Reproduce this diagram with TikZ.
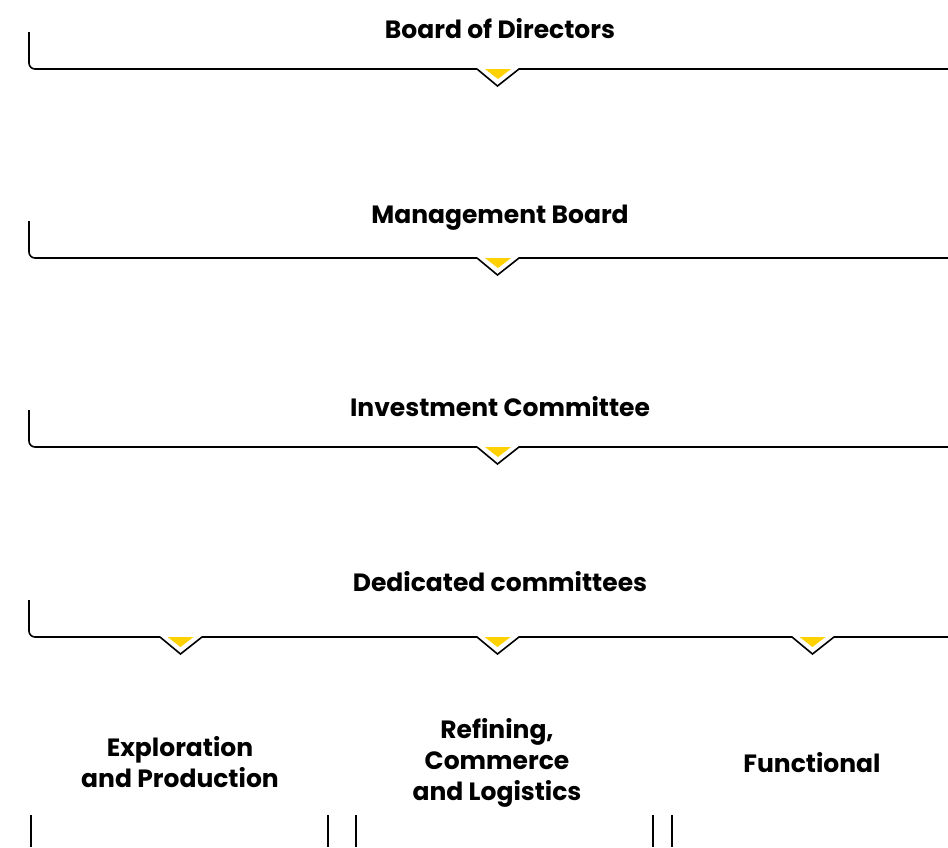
\documentclass[tikz,border=0pt]{standalone}
\usepackage{fontspec}
\setmainfont{Poppins}
\usepackage{tikz}
\usetikzlibrary{positioning}

\begin{document}
\begin{tikzpicture}[x=1pt, y=-1pt,
		title/.style={font=\bfseries\fontsize{25}{31}\selectfont, align=center, inner sep=0pt},
		band/.style={line width=1.6pt, black},
		marker/.style={fill={rgb,255:red,255;green,209;blue,0}}]
	\useasboundingbox (0,0) rectangle (948,847);
	% headings
	\node[title] (board) at (500,29) {Board of Directors};
	\node[title] (mgmt) at (500,218) {Management Board};
	\node[title] (invest) at (500,407) {Investment Committee};
	\node[title] (dedic) at (500,582) {Dedicated committees};
	% bands
	\foreach \y in {69,258,447} {
		\draw[band, rounded corners=6] (29,\y-37) |- (477,\y);
		\draw[band] (477,\y) -- (497.5,\y+17) -- (519,\y) -- (948,\y);
		\fill[marker] (485,\y) -- (511,\y) -- (498,\y+10) -- cycle;
	}
	% last band, three notches
	\draw[band, rounded corners=6] (29,600) |- (160,637);
	\draw[band] (160,637) -- (180.5,654) -- (202,637) -- (477,637)
		-- (497.5,654) -- (519,637) -- (792,637)
		-- (812.5,654) -- (834,637) -- (948,637);
	\foreach \x in {180.5,497.5,812.5}
		\fill[marker] (\x-13,637) -- (\x+13,637) -- (\x,647) -- cycle;
	% branches
	\node[title] (explo) at (180,762) {Exploration\\and Production};
	\node[title] (refin) at (497,763) {Refining,\\Commerce\\and Logistics};
	\node[title] (funct) at (812,763) {Functional};
	\foreach \x in {31,328,356,653,672}
		\draw[band] (\x,815) -- (\x,847);
\end{tikzpicture}
\end{document}
